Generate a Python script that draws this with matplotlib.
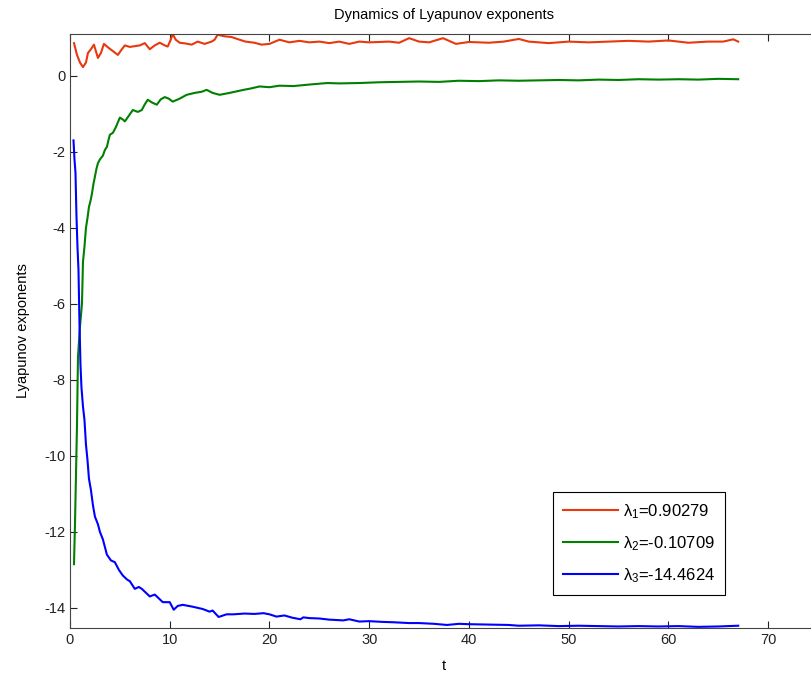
import matplotlib
matplotlib.use("Agg")
import matplotlib.pyplot as plt

plt.rcParams['font.family'] = ['Liberation Sans', 'DejaVu Sans']
plt.rcParams['mathtext.fontset'] = 'custom'
plt.rcParams['mathtext.rm'] = 'Liberation Sans'
plt.rcParams['mathtext.it'] = 'Liberation Sans'
plt.rcParams['axes.unicode_minus'] = False

# lambda_1
t1 = [0.4, 0.7, 1.0, 1.3, 1.6, 1.8, 2.1, 2.4, 2.8, 3.1, 3.4, 3.8, 4.3, 4.8, 5.2,
      5.5, 6.0, 6.5, 7.0, 7.5, 8.0, 8.5, 9.0, 9.5, 9.8, 10.1, 10.3, 10.6, 11.0,
      11.6, 12.2, 12.8, 13.5, 14.2, 14.5, 14.8, 15.5, 16.2, 17.0, 17.6, 18.5,
      19.2, 20.0, 21.0, 22.0, 23.0, 24.0, 25.0, 26.0, 27.0, 28.0, 29.0, 30.0,
      32.0, 33.0, 34.0, 35.0, 36.0, 37.4, 38.7, 40.0, 42.0, 43.5, 45.0, 46.0,
      48.0, 50.0, 52.0, 54.0, 56.0, 58.0, 60.0, 62.0, 64.0, 65.5, 66.5, 67.0]
v1 = [0.86, 0.55, 0.35, 0.23, 0.35, 0.6, 0.7, 0.82, 0.47, 0.6, 0.84, 0.75,
      0.65, 0.55, 0.7, 0.8, 0.76, 0.78, 0.8, 0.86, 0.7, 0.8, 0.87, 0.8, 0.77,
      0.95, 1.1, 0.95, 0.87, 0.85, 0.82, 0.9, 0.84, 0.9, 0.95, 1.08, 1.04, 1.02,
      0.95, 0.9, 0.87, 0.82, 0.84, 0.95, 0.88, 0.92, 0.88, 0.9, 0.86, 0.9, 0.84,
      0.9, 0.88, 0.9, 0.87, 0.99, 0.9, 0.88, 0.99, 0.84, 0.89, 0.87, 0.9, 0.97,
      0.9, 0.86, 0.9, 0.88, 0.9, 0.92, 0.9, 0.93, 0.87, 0.9, 0.9, 0.96, 0.9]

# lambda_2
t2 = [0.4, 0.5, 0.6, 0.7, 0.8, 0.9, 1.0, 1.1, 1.2, 1.3, 1.45, 1.6, 1.75, 1.9,
      2.05, 2.2, 2.35, 2.5, 2.65, 2.8, 3.0, 3.3, 3.5, 3.7, 3.85, 4.0, 4.3, 4.6,
      5.0, 5.3, 5.5, 5.9, 6.3, 6.8, 7.2, 7.5, 7.8, 8.2, 8.7, 9.1, 9.5, 9.9,
      10.3, 11.0, 11.7, 12.5, 13.2, 13.7, 14.3, 15.0, 16.0, 17.4, 18.2, 19.0,
      20.0, 21.0, 22.4, 24.0, 25.8, 27.0, 29.0, 31.0, 33.0, 35.0, 37.0, 39.0,
      41.0, 43.0, 45.0, 47.0, 49.0, 51.0, 53.0, 55.0, 57.0, 59.0, 61.0, 63.0,
      65.0, 67.0]
v2 = [-12.85, -11.8, -10.5, -9.2, -7.4, -7.0, -6.6, -6.3, -6.0, -4.9, -4.5,
      -4.0, -3.75, -3.45, -3.3, -3.1, -2.85, -2.65, -2.45, -2.3, -2.2, -2.1,
      -1.95, -1.87, -1.7, -1.55, -1.5, -1.35, -1.1, -1.15, -1.2, -1.05, -0.9,
      -0.95, -0.9, -0.75, -0.63, -0.7, -0.76, -0.62, -0.56, -0.6, -0.68, -0.6,
      -0.5, -0.45, -0.42, -0.37, -0.45, -0.5, -0.45, -0.37, -0.33, -0.28, -0.3,
      -0.26, -0.27, -0.23, -0.19, -0.2, -0.19, -0.17, -0.16, -0.15, -0.16,
      -0.13, -0.14, -0.12, -0.13, -0.12, -0.11, -0.12, -0.1, -0.11, -0.09,
      -0.1, -0.09, -0.1, -0.08, -0.09]

# lambda_3
t3 = [0.35, 0.45, 0.55, 0.65, 0.75, 0.85, 0.95, 1.05, 1.15, 1.3, 1.45, 1.6,
      1.75, 1.9, 2.1, 2.3, 2.5, 2.8, 3.0, 3.3, 3.7, 4.1, 4.5, 4.9, 5.3, 5.7,
      6.0, 6.5, 6.9, 7.2, 7.6, 8.0, 8.5, 8.9, 9.3, 10.0, 10.4, 10.8, 11.3,
      12.3, 13.3, 14.0, 14.3, 14.9, 15.7, 16.4, 17.5, 18.5, 19.4, 20.0, 20.7,
      21.5, 22.3, 23.1, 23.4, 24.0, 25.0, 26.0, 27.4, 28.0, 29.0, 30.0, 31.4,
      32.5, 34.0, 35.0, 36.5, 37.8, 39.0, 40.0, 42.0, 44.0, 45.0, 47.0, 49.0,
      51.0, 53.0, 55.0, 57.0, 59.0, 61.0, 63.0, 65.0, 67.0]
v3 = [-1.7, -2.2, -2.55, -3.7, -4.5, -5.1, -6.5, -7.6, -8.2, -8.7, -9.05,
      -9.7, -10.1, -10.6, -10.9, -11.3, -11.6, -11.8, -12.0, -12.2, -12.6,
      -12.75, -12.8, -13.0, -13.15, -13.25, -13.3, -13.5, -13.45, -13.5, -13.6,
      -13.7, -13.65, -13.75, -13.85, -13.85, -14.05, -13.95, -13.92, -13.97,
      -14.03, -14.1, -14.07, -14.24, -14.17, -14.17, -14.15, -14.16, -14.14,
      -14.17, -14.23, -14.2, -14.26, -14.3, -14.25, -14.27, -14.28, -14.31,
      -14.33, -14.3, -14.36, -14.35, -14.37, -14.38, -14.4, -14.4, -14.42,
      -14.45, -14.42, -14.43, -14.44, -14.45, -14.47, -14.46, -14.48, -14.47,
      -14.48, -14.49, -14.48, -14.49, -14.48, -14.5, -14.49, -14.47]

labels = [r'$\lambda_1$=0.90279', r'$\lambda_2$=-0.10709', r'$\lambda_3$=-14.4624']
colors = ['#e8380c', '#008000', '#0000ff']
xticks = [0, 10, 20, 30, 40, 50, 60, 70]
yticks = [0, -2, -4, -6, -8, -10, -12, -14]

fig = plt.figure(figsize=(8.11, 6.77), dpi=100)
ax = fig.add_axes([70 / 811, 49 / 677, 748 / 811, 594 / 677])

for t, v, c, lab in zip([t1, t2, t3], [v1, v2, v3], colors, labels):
    ax.plot(t, v, color=c, linewidth=1.5, label=lab)

ax.set_xlim(0, 75)
ax.set_ylim(-14.53, 1.1)
ax.set_xticks(xticks)
ax.set_yticks(yticks)
ax.tick_params(direction='in', top=True, right=True, length=5, width=0.8,
               labelsize=10.5, colors='#222222')
for s in ax.spines.values():
    s.set_color('#444444')
    s.set_linewidth(0.8)

ax.set_title("Dynamics of Lyapunov exponents", fontsize=10.5, pad=11)
ax.set_xlabel("t", fontsize=10.5, labelpad=9)
ax.set_ylabel("Lyapunov exponents", fontsize=10.5, labelpad=10)

leg = ax.legend(loc='lower right', bbox_to_anchor=((725 - 70) / 748, (628 - 595) / 594),
                borderaxespad=0, fontsize=12, fancybox=False, framealpha=1,
                edgecolor='black', handlelength=3.3, handletextpad=0.3,
                borderpad=0.6, labelspacing=0.8)
leg.get_frame().set_linewidth(0.8)

fig.savefig("out.png", dpi=100)
